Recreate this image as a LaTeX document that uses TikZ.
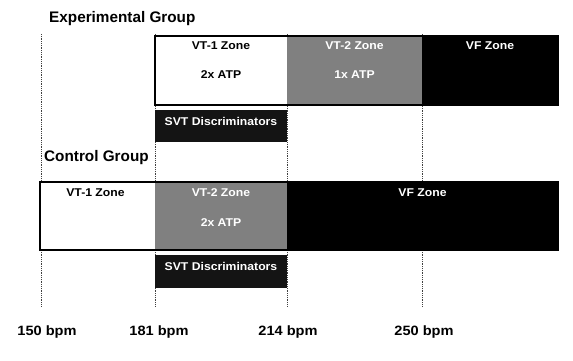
\documentclass[tikz,border=0pt]{standalone}
\usepackage{fontspec}
\setmainfont{Liberation Sans}
\newfontfamily\zonefont[FakeStretch=1.08]{Liberation Sans}
\begin{document}
\begin{tikzpicture}[x=1pt,y=-1pt,
  zone/.style={rectangle, inner sep=0pt, outer sep=0pt, anchor=north west},
  lbl/.style={inner sep=0pt, font=\zonefont\fontsize{11.3}{13}\selectfont\bfseries},
  title/.style={inner sep=0pt, anchor=west, font=\fontsize{15.3}{18}\selectfont\bfseries},
  bpm/.style={inner sep=0pt, font=\zonefont\fontsize{13.5}{15}\selectfont\bfseries},
  guide/.style={line width=0.8pt, black!75, dash pattern=on 0.9pt off 0.9pt},
  frame/.style={draw=black, line width=2.8pt}
]
\useasboundingbox (0,0) rectangle (573,361);
\fill[white] (0,0) rectangle (573,361);

% guide lines
\foreach \n/\x in {1/41,2/155,3/287,4/422}{
  \coordinate (t\n) at (\x,34);
  \coordinate (b\n) at (\x,307);
}
\foreach \n in {1,2,3,4}{ \draw[guide] (t\n) -- (b\n); }

% Experimental group
\node[title] (exptitle) at (49,19) {Experimental Group};
\node[zone, fill=white, minimum width=132, minimum height=69] (e1) at (155,36) {};
\node[zone, fill=black!50, minimum width=135, minimum height=69] (e2) at (287,36) {};
\node[zone, fill=black, minimum width=136, minimum height=69] (e3) at (422,36) {};
\draw[frame] (e1.north west) rectangle (e3.south east);
\node[lbl] (e1a) at ([yshift=-10pt]e1.north) {VT-1 Zone};
\node[lbl] (e1b) at ([yshift=-39pt]e1.north) {2x ATP};
\node[lbl, text=white] (e2a) at ([yshift=-10pt]e2.north) {VT-2 Zone};
\node[lbl, text=white] (e2b) at ([yshift=-39pt]e2.north) {1x ATP};
\node[lbl, text=white] (e3a) at ([yshift=-10pt]e3.north) {VF Zone};
\node[zone, fill=black!92, minimum width=132, minimum height=32] (esvt) at (155,110) {};
\node[lbl, text=white] (esvtl) at ([yshift=-11pt]esvt.north) {SVT Discriminators};

% Control group
\node[title] (ctitle) at (44,158) {Control Group};
\node[zone, fill=white, minimum width=115, minimum height=68] (c1) at (40,182) {};
\node[zone, fill=black!50, minimum width=132, minimum height=68] (c2) at (155,182) {};
\node[zone, fill=black, minimum width=271, minimum height=68] (c3) at (287,182) {};
\draw[frame] (c1.north west) rectangle (c3.south east);
\node[lbl] (c1a) at ([xshift=-2pt,yshift=-11pt]c1.north) {VT-1 Zone};
\node[lbl, text=white] (c2a) at ([yshift=-11pt]c2.north) {VT-2 Zone};
\node[lbl, text=white] (c2b) at ([yshift=-41pt]c2.north) {2x ATP};
\node[lbl, text=white] (c3a) at ([yshift=-11pt]c3.north) {VF Zone};
\node[zone, fill=black!92, minimum width=132, minimum height=33] (csvt) at (155,255) {};
\node[lbl, text=white] (csvtl) at ([yshift=-11pt]csvt.north) {SVT Discriminators};

% bpm labels
\node[bpm] (p150) at (47,332) {150 bpm};
\node[bpm] (p181) at (159,332) {181 bpm};
\node[bpm] (p214) at (288,332) {214 bpm};
\node[bpm] (p250) at (424,332) {250 bpm};
\end{tikzpicture}
\end{document}
